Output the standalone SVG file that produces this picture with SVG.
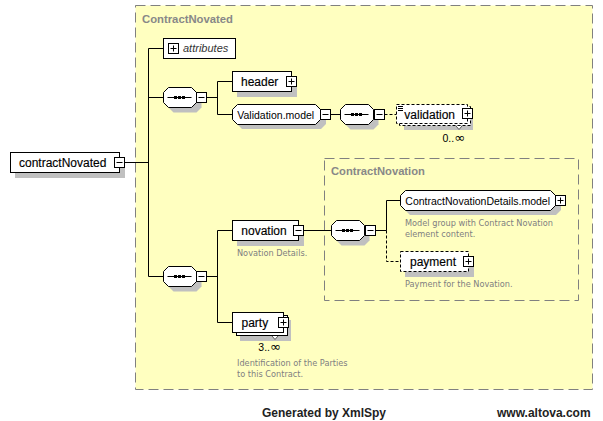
<svg xmlns="http://www.w3.org/2000/svg" width="603" height="421" viewBox="0 0 603 421">
<defs>
<style>
.bg{fill:#fff}
.frame{fill:#ffffc0;stroke:#808080;stroke-width:1;stroke-dasharray:10,5}
.frame2{fill:none;stroke:#808080;stroke-width:1;stroke-dasharray:10,5}
.ttl{font-family:"Liberation Sans",Arial,sans-serif;font-weight:bold;fill:#888;font-size:11.3px}
.box{fill:#fff;stroke:#000;stroke-width:1}
.dbox{fill:#fff;stroke:#000;stroke-width:1;stroke-dasharray:3,2}
.sh{fill:#c0c0c0}
.el{font-family:"Liberation Sans",Arial,sans-serif;font-size:12px;fill:#000;stroke:#000;stroke-width:0.15px}
.grp{font-family:"Liberation Sans",Arial,sans-serif;font-size:10.5px;fill:#000}
.att{font-family:"Liberation Sans",Arial,sans-serif;font-size:11px;font-style:italic;fill:#333}
.desc{font-family:"DejaVu Sans",Verdana,sans-serif;font-size:8.2px;fill:#808080}
.occ{font-family:"Liberation Sans",Arial,sans-serif;font-size:10.5px;fill:#000}
.inf{font-family:"DejaVu Sans",sans-serif;font-size:13px}
.foot{font-family:"Liberation Sans",Arial,sans-serif;font-size:12px;font-weight:bold;fill:#222}
.ln{stroke:#000;stroke-width:1;fill:none}
.dl{stroke:#000;stroke-width:1;fill:none;stroke-dasharray:3,2}
</style>
<g id="pm"><rect class="box" x="0" y="0" width="10" height="10"/><path class="ln" d="M2,5H8"/></g>
<g id="pp"><rect class="box" x="0" y="0" width="10" height="10"/><path class="ln" d="M2,5H8M5,2V8"/></g>
<g id="seq">
<polygon class="sh" points="10,5 33,5 38,10 38,20 33,25 10,25 5,20 5,10"/>
<polygon class="box" points="5,0 28,0 33,5 33,15 28,20 5,20 0,15 0,5"/>
<path class="ln" d="M4,10H28"/>
<rect x="10.5" y="8.5" width="3" height="3" fill="#000"/>
<rect x="14.5" y="8.5" width="3" height="3" fill="#000"/>
<rect x="18.5" y="8.5" width="3" height="3" fill="#000"/>
</g>
</defs>
<rect class="bg" x="0" y="0" width="603" height="421"/>

<g id="frame-ContractNovated">
<rect class="frame" x="135.5" y="5.5" width="457" height="384"/>
<text class="ttl" x="142" y="23">ContractNovated</text>
</g>
<g id="frame-ContractNovation">
<rect class="frame2" x="324.5" y="158.5" width="254" height="142"/>
<text class="ttl" x="331" y="175" style="font-size:11.2px">ContractNovation</text>
</g>

<g id="connectors">
<path class="ln" d="M124.5,162.5H148.5M148.5,48.5V276.5M148.5,48.5H163.5M148.5,97.5H163.5M148.5,276.5H163.5"/>
<path class="ln" d="M206.5,97.5H217.5M217.5,81.5V114.5M217.5,81.5H232.5M217.5,114.5H232.5"/>
<path class="ln" d="M330.5,114.5H340.5"/>
<path class="dl" d="M384.5,114.5H396.5"/>
<path class="ln" d="M206.5,276.5H217.5M217.5,230.5V322.5M217.5,230.5H232.5M217.5,322.5H232.5"/>
<path class="ln" d="M303.5,230.5H331.5"/>
<path class="ln" d="M375.5,230.5H386.5M386.5,230.5V200.5H400.5"/>
<path class="dl" d="M386.5,230.5V261.5H400.5"/>
</g>

<g id="contractNovated">
<rect class="sh" x="15" y="157" width="110" height="21"/>
<rect class="box" x="10.5" y="152.5" width="109" height="20"/>
<text class="el" x="19" y="166.5">contractNovated</text>
<use href="#pm" x="114.5" y="157.5"/>
</g>

<g id="attributes">
<rect class="box" x="163.5" y="38.5" width="72" height="20"/>
<use href="#pp" x="168.5" y="43.5"/>
<text class="att" x="183" y="52">attributes</text>
</g>

<g id="seq1">
<use href="#seq" x="163.5" y="87.5"/>
<use href="#pm" x="196.5" y="92.5"/>
</g>

<g id="header">
<rect class="sh" x="237" y="76" width="60" height="21"/>
<rect class="box" x="232.5" y="71.5" width="59" height="20"/>
<text class="el" x="241" y="85.5">header</text>
<use href="#pp" x="286.5" y="76.5"/>
</g>

<g id="Validation.model">
<polygon class="sh" points="242,109 321,109 326,114 326,124 321,129 242,129 237,124 237,114"/>
<polygon class="box" points="237.5,104.5 315.5,104.5 320.5,109.5 320.5,119.5 315.5,124.5 237.5,124.5 232.5,119.5 232.5,109.5"/>
<text class="grp" x="237.3" y="118.5">Validation.model</text>
<use href="#pm" x="320.5" y="109.5"/>
</g>

<g id="seq2">
<use href="#seq" x="340.5" y="104.5"/>
<use href="#pm" x="374.5" y="109.5"/>
</g>

<g id="validation">
<rect class="sh" x="404" y="110" width="69" height="20"/>
<rect class="dbox" x="399.5" y="106.5" width="71" height="19"/>
<rect class="dbox" x="396.5" y="104.5" width="71" height="19"/>
<path class="ln" d="M398,106.5H403M398,108.5H403M398,110.5H403" stroke-width="0.8"/>
<text class="el" x="404.3" y="118.5">validation</text>
<use href="#pp" x="462.5" y="108.5"/>
<polyline points="456,126 459,129.5 462,126" fill="#fff" stroke="#555" stroke-width="1"/>
<text class="occ" x="442.5" y="141.5">0..<tspan class="inf">∞</tspan></text>
</g>

<g id="seq3">
<use href="#seq" x="163.5" y="266.5"/>
<use href="#pm" x="196.5" y="271.5"/>
</g>

<g id="novation">
<rect class="sh" x="237" y="225" width="67" height="21"/>
<rect class="box" x="232.5" y="220.5" width="66" height="20"/>
<text class="el" x="241.3" y="234.5">novation</text>
<use href="#pm" x="293.5" y="225.5"/>
<text class="desc" x="237" y="256">Novation Details.</text>
</g>

<g id="seq4">
<use href="#seq" x="331.5" y="220.5"/>
<use href="#pm" x="365.5" y="225.5"/>
</g>

<g id="ContractNovationDetails.model">
<polygon class="sh" points="410,195 556,195 561,200 561,210 556,215 410,215 405,210 405,200"/>
<polygon class="box" points="405.5,190.5 550.5,190.5 555.5,195.5 555.5,205.5 550.5,210.5 405.5,210.5 400.5,205.5 400.5,195.5"/>
<text class="grp" x="405.3" y="204.5">ContractNovationDetails.model</text>
<use href="#pp" x="555.5" y="195.5"/>
<text class="desc" x="405" y="226">Model group with Contract Novation</text>
<text class="desc" x="405" y="237">element content.</text>
</g>

<g id="payment">
<rect class="sh" x="405" y="256" width="69" height="21"/>
<rect class="dbox" x="400.5" y="251.5" width="68" height="20"/>
<text class="el" x="410" y="265.5">payment</text>
<use href="#pp" x="463.5" y="256.5"/>
<text class="desc" x="405" y="287">Payment for the Novation.</text>
</g>

<g id="party">
<rect class="sh" x="240" y="320" width="51" height="21"/>
<rect class="box" x="236.5" y="315.5" width="51" height="20"/>
<rect class="box" x="232.5" y="312.5" width="51" height="20"/>
<text class="el" x="241.5" y="327">party</text>
<use href="#pp" x="278.5" y="317.5"/>
<polyline points="272,336 275,339.5 278,336" fill="#fff" stroke="#555" stroke-width="1"/>
<text class="occ" x="258.3" y="350.5">3..<tspan class="inf">∞</tspan></text>
<text class="desc" x="237" y="366">Identification of the Parties</text>
<text class="desc" x="237" y="377">to this Contract.</text>
</g>

<g id="footer">
<text class="foot" x="262" y="417">Generated by XmlSpy</text>
<text class="foot" x="497" y="417">www.altova.com</text>
</g>
</svg>
